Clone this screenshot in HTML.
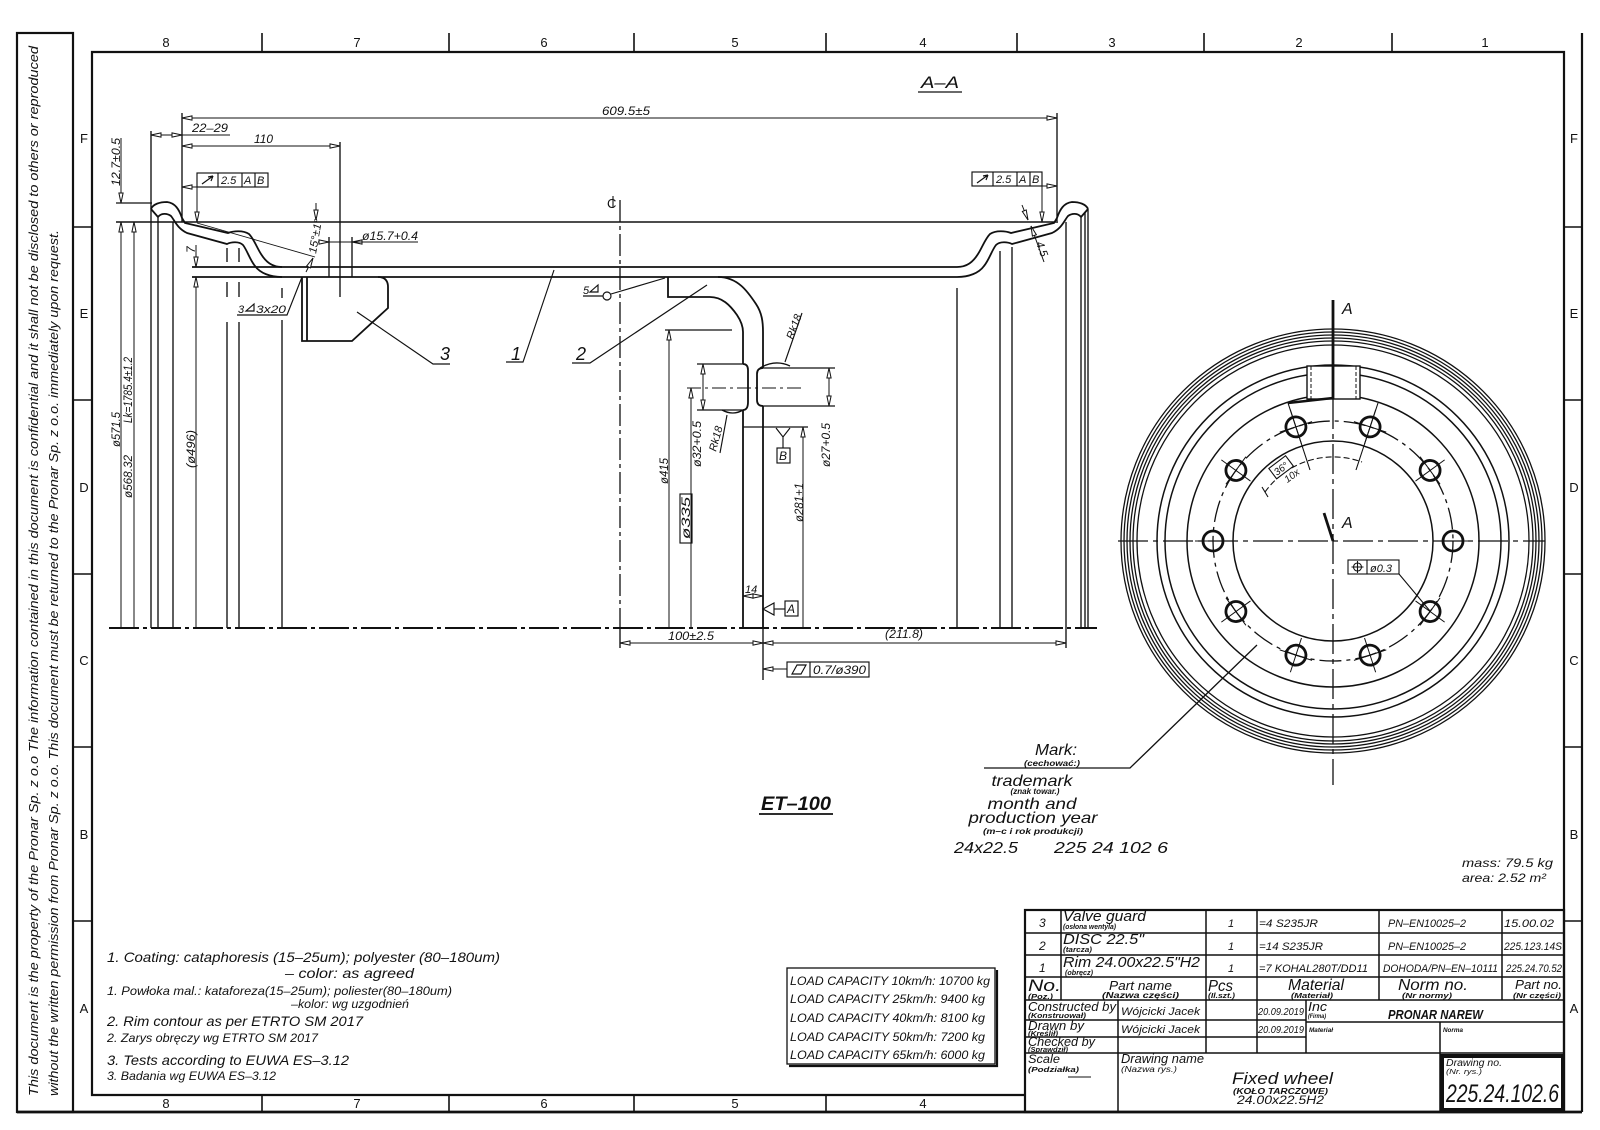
<!DOCTYPE html>
<html><head><meta charset="utf-8">
<style>
html,body{margin:0;padding:0;background:#fff;}
svg{display:block;}
text{font-family:"Liberation Sans","DejaVu Sans",sans-serif;font-style:italic;fill:#111;stroke:none;}
.n{font-style:normal;}
</style></head><body>
<svg width="1600" height="1130" viewBox="0 0 1600 1130" xmlns="http://www.w3.org/2000/svg">
<defs>
<marker id="a" viewBox="-1 -1 12 7" refX="10" refY="2.5" markerWidth="12" markerHeight="7" markerUnits="userSpaceOnUse" orient="auto-start-reverse"><path d="M0,0.4 L10,2.5 L0,4.6Z" fill="#fff" stroke="#111" stroke-width="1"/></marker>
</defs>
<rect width="1600" height="1130" fill="#fff"/>

<!-- FRAME -->
<g stroke="#111" fill="none" stroke-width="2.2">
<rect x="17" y="33" width="56" height="1079"/>
<line x1="1582" y1="33" x2="1582" y2="1112"/>
<line x1="17" y1="1112" x2="1582" y2="1112" stroke-width="2.8"/>
<path d="M1025,1095 H92 V52 H1564 V1112"/>
</g>
<g stroke="#111" stroke-width="1.6" fill="none">
<path d="M73,227H92M73,400H92M73,574H92M73,747H92M73,921H92"/>
<path d="M1564,227H1582M1564,400H1582M1564,574H1582M1564,747H1582M1564,921H1582"/>
<path d="M262,33V52M449,33V52M634,33V52M826,33V52M1017,33V52M1204,33V52M1392,33V52"/>
<path d="M262,1095V1112M449,1095V1112M634,1095V1112M826,1095V1112"/>
</g>
<g class="n" font-size="13" text-anchor="middle">
<text class="n" x="166" y="47">8</text><text class="n" x="357" y="47">7</text><text class="n" x="544" y="47">6</text><text class="n" x="735" y="47">5</text><text class="n" x="923" y="47">4</text><text class="n" x="1112" y="47">3</text><text class="n" x="1299" y="47">2</text><text class="n" x="1485" y="47">1</text>
<text class="n" x="166" y="1108">8</text><text class="n" x="357" y="1108">7</text><text class="n" x="544" y="1108">6</text><text class="n" x="735" y="1108">5</text><text class="n" x="923" y="1108">4</text>
<text class="n" x="84" y="143">F</text><text class="n" x="84" y="318">E</text><text class="n" x="84" y="492">D</text><text class="n" x="84" y="665">C</text><text class="n" x="84" y="839">B</text><text class="n" x="84" y="1013">A</text>
<text class="n" x="1574" y="143">F</text><text class="n" x="1574" y="318">E</text><text class="n" x="1574" y="492">D</text><text class="n" x="1574" y="665">C</text><text class="n" x="1574" y="839">B</text><text class="n" x="1574" y="1013">A</text>
</g>
<text transform="translate(38,1096) rotate(-90)" font-size="13" textLength="1050" lengthAdjust="spacingAndGlyphs">This document is the property of the Pronar Sp. z o.o The information contained in this document is confidential and it shall not be disclosed to others or reproduced</text>
<text transform="translate(58,1096) rotate(-90)" font-size="13" textLength="866" lengthAdjust="spacingAndGlyphs">without the written permission from Pronar Sp. z o.o.  This document must be returned to the Pronar Sp. z o.o.  immediately upon request.</text>

<!-- SECTION A-A -->
<text x="921" y="88" font-size="17" textLength="38" lengthAdjust="spacingAndGlyphs">A–A</text>
<line x1="918" y1="92" x2="962" y2="92" stroke="#111" stroke-width="1.3"/>

<!-- centre lines -->
<g stroke="#111" fill="none">
<line x1="109" y1="628" x2="1097" y2="628" stroke-width="1.9" stroke-dasharray="30 4 4 4"/>
<line x1="620" y1="200" x2="620" y2="628" stroke-width="1.3" stroke-dasharray="22 4 4 4"/>
</g>

<!-- rim profile -->
<g stroke="#111" stroke-width="1.8" fill="none">
<path d="M151,209 C153,204 160,202 167,202 C175,203 179,209 182,218 L185,223 L228,233 C233,231 243,230 249,234 C254,239 257,248 261,254 C266,262 272,267 282,267"/>
<path d="M158,217 C161,213 167,213 171,216 C175,221 177,228 187,233 L227,244 C231,242 239,241 243,245 C247,250 250,260 255,266 C260,273 270,277 282,277"/>
<path d="M151,209 L158,217"/>
<g transform="translate(1239,0) scale(-1,1)">
<path d="M151,209 C153,204 160,202 167,202 C175,203 179,209 182,218 L185,223 L228,233 C233,231 243,230 249,234 C254,239 257,248 261,254 C266,262 272,267 282,267"/>
<path d="M158,217 C161,213 167,213 171,216 C175,221 177,228 187,233 L227,244 C231,242 239,241 243,245 C247,250 250,260 255,266 C260,273 270,277 282,277"/>
<path d="M151,209 L158,217"/>
</g>
<line x1="116" y1="222" x2="1058" y2="222" stroke-width="1.5"/>
<line x1="192" y1="267" x2="957" y2="267"/>
<line x1="192" y1="277" x2="957" y2="277"/>
<!-- disc -->
<path d="M718,277 C738,277 748,292 756,304 C762,313 763,322 763,332 V368"/>
<path d="M668,277 V297 H710 C722,297 730,305 737,315 C741,321 743,326 743,332 V364"/>
<path d="M743,410 V628 M763,406 V628"/>
<path d="M748,370 V402 M757,374 V400"/>
<path d="M743,364 Q748,364 748,370 M763,368 Q757,368 757,374 M748,402 Q748,410 743,410 M757,400 Q757,406 763,406"/>
<!-- valve guard -->
<path d="M302,277 V341 H352 L388,308 V287 Q388,277 378,277"/>
<line x1="307" y1="277" x2="307" y2="341"/>
</g>

<!-- vertical construction lines -->
<g stroke="#111" stroke-width="1.35" fill="none">
<path d="M151,131V628 M158,216V628 M173,222V628"/>
<path d="M227,322V628 M239,322V628 M282,320V628"/>
<path d="M227,248V262 M239,248V262 M227,282V297 M239,282V297 M282,288V298"/>
<path d="M957,288V628 M1000,251V628 M1012,247V628 M1066,222V648 M1081,216V628 M1085,212V628 M1088,209V628"/>
<path d="M182,113V222 M1057,113V221 M340,142V297"/>
<path d="M329,237V277 M352,237V277"/>
<path d="M116,203H152"/>
<path d="M620,628V648 M763,628V680"/>
<path d="M665,330H732 M743,427H808"/>
<path d="M697,364H743 M697,410H743 M763,368H835 M763,406H835"/>
<path d="M760,368 Q775,359 790,366 M722,410 Q733,416 743,410"/>
</g>
<line x1="687" y1="388" x2="805" y2="388" stroke="#111" stroke-width="1.1" stroke-dasharray="14 4 3 4"/>
<line x1="197" y1="223" x2="315" y2="257" stroke="#111" stroke-width="0.9"/>

<!-- dimension lines -->
<g stroke="#111" stroke-width="1" fill="none">
<line x1="182" y1="118" x2="1057" y2="118" marker-start="url(#a)" marker-end="url(#a)"/>
<line x1="151" y1="135" x2="182" y2="135" marker-start="url(#a)" marker-end="url(#a)"/>
<line x1="182" y1="135" x2="230" y2="135"/>
<line x1="182" y1="146" x2="340" y2="146" marker-start="url(#a)" marker-end="url(#a)"/>
<line x1="121" y1="138" x2="121" y2="203" marker-end="url(#a)"/>
<line x1="121" y1="628" x2="121" y2="222" marker-end="url(#a)"/>
<line x1="134" y1="628" x2="134" y2="222" marker-end="url(#a)"/>
<line x1="196" y1="628" x2="196" y2="277" marker-end="url(#a)"/>
<line x1="196" y1="245" x2="196" y2="267" marker-end="url(#a)"/>
<line x1="316" y1="203" x2="316" y2="220" marker-end="url(#a)"/>
<line x1="306" y1="272" x2="313" y2="258" marker-end="url(#a)"/>
<line x1="197" y1="187" x2="182" y2="187" marker-end="url(#a)"/>
<line x1="197" y1="187" x2="197" y2="222" marker-end="url(#a)"/>
<line x1="1042" y1="186" x2="1057" y2="186" marker-end="url(#a)"/>
<line x1="1042" y1="186" x2="1042" y2="222" marker-end="url(#a)"/>
<line x1="318" y1="242" x2="329" y2="242" marker-end="url(#a)"/>
<line x1="363" y1="242" x2="352" y2="242" marker-end="url(#a)"/>
<line x1="329" y1="242" x2="418" y2="242"/>
<line x1="1022" y1="205" x2="1028" y2="220" marker-end="url(#a)"/>
<line x1="1044" y1="262" x2="1031" y2="226" marker-end="url(#a)"/>
<line x1="703" y1="364" x2="703" y2="410" marker-start="url(#a)" marker-end="url(#a)"/>
<line x1="829" y1="368" x2="829" y2="406" marker-start="url(#a)" marker-end="url(#a)"/>
<line x1="691" y1="628" x2="691" y2="388" marker-end="url(#a)"/>
<line x1="669" y1="628" x2="669" y2="330" marker-end="url(#a)"/>
<line x1="803" y1="628" x2="803" y2="427" marker-end="url(#a)"/>
<line x1="743" y1="596" x2="763" y2="596" marker-start="url(#a)" marker-end="url(#a)"/>
<line x1="620" y1="643" x2="763" y2="643" marker-start="url(#a)" marker-end="url(#a)"/>
<line x1="763" y1="643" x2="1066" y2="643" marker-start="url(#a)" marker-end="url(#a)"/>
<line x1="787" y1="669" x2="763" y2="669" marker-end="url(#a)"/>
</g>

<!-- leaders & labels -->
<g stroke="#111" stroke-width="1.15" fill="none">
<path d="M506,362H523L554,270"/>
<path d="M572,363H590L707,285"/>
<path d="M357,312L433,364H450"/>
<path d="M237,315H287L302,277"/>
<path d="M583,296H603"/>
<circle cx="607" cy="296" r="4"/>
<path d="M611,294L665,278"/>
<path d="M785,362L802,313 M727,415L720,453"/>
<path d="M776,428L783,437L790,428M783,437V448"/>
<rect x="777" y="448" width="13" height="15"/>
<path d="M763,609L774,603V615Z"/>
<path d="M774,609H785"/>
<rect x="785" y="601" width="13" height="15"/>
<rect x="680" y="494" width="12" height="49"/>
<rect x="787" y="662" width="82" height="15"/>
<path d="M810,662V677M792,674L797,665H806L801,674Z"/>
<path d="M246,311L254,311L254,304Z M590,292L598,292L598,285Z"/>
<rect x="197" y="173" width="71" height="14"/>
<path d="M218,173V187M242,173V187M255,173V187"/>
<path d="M202,184L213,176"/>
<path d="M213,176L208,177M213,176L211,181"/>
<rect x="972" y="172" width="70" height="14"/>
<path d="M993,172V186M1017,172V186M1030,172V186"/>
<path d="M977,183L988,175M988,175L983,176M988,175L986,180"/>
</g>
<!-- CL symbol -->
<text x="607" y="208" font-size="13" class="n">C</text>
<line x1="613" y1="196" x2="613" y2="208" stroke="#111" stroke-width="1.1"/>

<g font-size="12">
<text x="602" y="115" textLength="48" lengthAdjust="spacingAndGlyphs">609.5±5</text>
<text x="192" y="132" textLength="36" lengthAdjust="spacingAndGlyphs">22–29</text>
<text x="254" y="143" textLength="19" lengthAdjust="spacingAndGlyphs">110</text>
<text x="362" y="240" textLength="56" lengthAdjust="spacingAndGlyphs">ø15.7+0.4</text>
<text transform="translate(120,186) rotate(-90)" textLength="48" lengthAdjust="spacingAndGlyphs">12.7±0.5</text>
<text transform="translate(120,447) rotate(-90)" textLength="35" lengthAdjust="spacingAndGlyphs">ø571.5</text>
<text transform="translate(132,423) rotate(-90)" textLength="66" lengthAdjust="spacingAndGlyphs">Lk=1785.4±1.2</text>
<text transform="translate(132,498) rotate(-90)" textLength="43" lengthAdjust="spacingAndGlyphs">ø568.32</text>
<text transform="translate(195,468) rotate(-90)" textLength="38" lengthAdjust="spacingAndGlyphs">(ø496)</text>
<text transform="translate(195,253) rotate(-90)">7</text>
<text transform="translate(316,254) rotate(-80)" font-size="11" textLength="35" lengthAdjust="spacingAndGlyphs">15°±1°</text>
<text x="221" y="184" font-size="11">2.5</text>
<text x="244" y="184" font-size="11">A</text>
<text x="257" y="184" font-size="11">B</text>
<text x="996" y="183" font-size="11">2.5</text>
<text x="1019" y="183" font-size="11">A</text>
<text x="1032" y="183" font-size="11">B</text>
<text transform="translate(1036,243) rotate(70)" font-size="11">4.5</text>
<text x="238" y="313" font-size="11">3</text>
<text x="256" y="313" font-size="11" textLength="30" lengthAdjust="spacingAndGlyphs">3x20</text>
<text x="583" y="294" font-size="11">5</text>
<text x="511" y="360" font-size="18">1</text>
<text x="576" y="360" font-size="18">2</text>
<text x="440" y="360" font-size="18">3</text>
<text transform="translate(793,340) rotate(-70)" font-size="11">Rk18</text>
<text transform="translate(716,452) rotate(-75)" font-size="11">Rk18</text>
<text transform="translate(701,467) rotate(-90)" textLength="46" lengthAdjust="spacingAndGlyphs">ø32+0.5</text>
<text transform="translate(830,467) rotate(-90)" textLength="44" lengthAdjust="spacingAndGlyphs">ø27+0.5</text>
<text transform="translate(668,484) rotate(-90)" textLength="26" lengthAdjust="spacingAndGlyphs">ø415</text>
<text transform="translate(690,539) rotate(-90)" textLength="42" lengthAdjust="spacingAndGlyphs">ø335</text>
<text transform="translate(803,522) rotate(-90)" textLength="39" lengthAdjust="spacingAndGlyphs">ø281+1</text>
<text x="779" y="460" font-size="12">B</text>
<text x="745" y="593" font-size="11">14</text>
<text x="787" y="613" font-size="12">A</text>
<text x="668" y="640" textLength="46" lengthAdjust="spacingAndGlyphs">100±2.5</text>
<text x="885" y="638" textLength="38" lengthAdjust="spacingAndGlyphs">(211.8)</text>
<text x="813" y="674" textLength="53" lengthAdjust="spacingAndGlyphs">0.7/ø390</text>
</g>

<!-- CIRCLE VIEW -->
<g stroke="#111" fill="none" stroke-width="1.3">
<circle cx="1333" cy="541" r="212"/>
<circle cx="1333" cy="541" r="209"/>
<circle cx="1333" cy="541" r="206"/>
<circle cx="1333" cy="541" r="203"/>
<circle cx="1333" cy="541" r="200"/>
<circle cx="1333" cy="541" r="196"/>
<circle cx="1333" cy="541" r="176" stroke-width="1.5"/>
<circle cx="1333" cy="541" r="168" stroke-width="1.5"/>
<circle cx="1333" cy="541" r="146" stroke-width="1.5"/>
<circle cx="1333" cy="541" r="100" stroke-width="1.5"/>
<circle cx="1333" cy="541" r="120" stroke-dasharray="22 5 4 5"/>
<line x1="1118" y1="541" x2="1545" y2="541" stroke-dasharray="30 5 5 5"/>
<line x1="1333" y1="399" x2="1333" y2="785" stroke-dasharray="30 5 5 5"/>
</g>
<rect x="1307" y="366" width="53" height="33" fill="#fff" stroke="#111" stroke-width="1.4"/>
<g stroke="#111" fill="none">
<path d="M1311,366V399M1356,366V399" stroke-width="1" stroke-dasharray="4 2"/>
<line x1="1333" y1="300" x2="1333" y2="399" stroke-width="2.8"/>
<line x1="1324" y1="513" x2="1333" y2="541" stroke-width="2.8"/>
<path d="M1333,398L1288,403" stroke-width="2.4"/>
<path d="M1288,403L1310,470 M1378,403L1356,470" stroke-width="1.1"/>
<path d="M1265,492 A84,84 0 0 1 1362,462" stroke-width="1.1" stroke-dasharray="6 3"/>
<path d="M1262,487L1268,497" stroke-width="1.1"/>
</g>
<g stroke="#111" fill="none">
<g transform="translate(1333,541) rotate(18)"><circle cx="0" cy="-120" r="10" stroke-width="2.8"/><path d="M0,-138V-102M-17,-120H17" stroke-width="1"/></g>
<g transform="translate(1333,541) rotate(54)"><circle cx="0" cy="-120" r="10" stroke-width="2.8"/><path d="M0,-138V-102M-17,-120H17" stroke-width="1"/></g>
<g transform="translate(1333,541) rotate(90)"><circle cx="0" cy="-120" r="10" stroke-width="2.8"/><path d="M0,-138V-102" stroke-width="1"/></g>
<g transform="translate(1333,541) rotate(126)"><circle cx="0" cy="-120" r="10" stroke-width="2.8"/><path d="M0,-138V-102M-17,-120H17" stroke-width="1"/></g>
<g transform="translate(1333,541) rotate(162)"><circle cx="0" cy="-120" r="10" stroke-width="2.8"/><path d="M0,-138V-102M-17,-120H17" stroke-width="1"/></g>
<g transform="translate(1333,541) rotate(198)"><circle cx="0" cy="-120" r="10" stroke-width="2.8"/><path d="M0,-138V-102M-17,-120H17" stroke-width="1"/></g>
<g transform="translate(1333,541) rotate(234)"><circle cx="0" cy="-120" r="10" stroke-width="2.8"/><path d="M0,-138V-102M-17,-120H17" stroke-width="1"/></g>
<g transform="translate(1333,541) rotate(270)"><circle cx="0" cy="-120" r="10" stroke-width="2.8"/><path d="M0,-138V-102" stroke-width="1"/></g>
<g transform="translate(1333,541) rotate(306)"><circle cx="0" cy="-120" r="10" stroke-width="2.8"/><path d="M0,-138V-102M-17,-120H17" stroke-width="1"/></g>
<g transform="translate(1333,541) rotate(342)"><circle cx="0" cy="-120" r="10" stroke-width="2.8"/><path d="M0,-138V-102M-17,-120H17" stroke-width="1"/></g>
</g>
<g transform="translate(1281,468) rotate(-37)">
<rect x="-10" y="-7" width="21" height="13" fill="#fff" stroke="#111" stroke-width="1.1"/>
<text x="-8" y="4" font-size="10">36°</text>
<text x="-4" y="16" font-size="10">10x</text>
</g>
<rect x="1348" y="560" width="51" height="14" fill="#fff" stroke="#111" stroke-width="1.1"/>
<path d="M1367,560V574 M1399,574L1430,611" stroke="#111" stroke-width="1.1" fill="none"/>
<circle cx="1357.5" cy="567" r="4" fill="none" stroke="#111" stroke-width="1.1"/>
<path d="M1351.5,567H1363.5M1357.5,561V573" stroke="#111" stroke-width="1.1"/>
<text x="1370" y="572" font-size="11">ø0.3</text>
<text x="1342" y="314" font-size="16">A</text>
<text x="1342" y="528" font-size="16">A</text>

<!-- MARK -->
<path d="M984,768H1130L1257,645" stroke="#111" stroke-width="1.3" fill="none"/>
<g text-anchor="middle">
<text x="1056" y="755" font-size="16" textLength="42" lengthAdjust="spacingAndGlyphs">Mark:</text>
<text x="1052" y="766" font-size="8" font-weight="bold" textLength="56" lengthAdjust="spacingAndGlyphs">(cechować:)</text>
<text x="1032" y="786" font-size="16" textLength="81" lengthAdjust="spacingAndGlyphs">trademark</text>
<text x="1035" y="794" font-size="8" font-weight="bold" textLength="49" lengthAdjust="spacingAndGlyphs">(znak towar.)</text>
<text x="1032" y="809" font-size="16" textLength="89" lengthAdjust="spacingAndGlyphs">month and</text>
<text x="1033" y="823" font-size="16" textLength="129" lengthAdjust="spacingAndGlyphs">production  year</text>
<text x="1033" y="834" font-size="8" font-weight="bold" textLength="100" lengthAdjust="spacingAndGlyphs">(m–c i rok produkcji)</text>
</g>
<text x="954" y="853" font-size="16" textLength="64" lengthAdjust="spacingAndGlyphs">24x22.5</text>
<text x="1054" y="853" font-size="16" textLength="114" lengthAdjust="spacingAndGlyphs">225 24 102 6</text>

<text x="761" y="810" font-size="19" font-weight="bold" textLength="70" lengthAdjust="spacingAndGlyphs">ET–100</text>
<line x1="759" y1="814" x2="833" y2="814" stroke="#111" stroke-width="1.8"/>

<text x="1462" y="867" font-size="12" textLength="91" lengthAdjust="spacingAndGlyphs">mass:  79.5 kg</text>
<text x="1462" y="882" font-size="12" textLength="84" lengthAdjust="spacingAndGlyphs">area:  2.52 m²</text>

<!-- NOTES -->
<text x="107" y="962" font-size="14" textLength="393" lengthAdjust="spacingAndGlyphs">1. Coating: cataphoresis (15–25um); polyester (80–180um)</text>
<text x="285" y="978" font-size="14" textLength="129" lengthAdjust="spacingAndGlyphs">– color: as agreed</text>
<text x="107" y="995" font-size="12" textLength="345" lengthAdjust="spacingAndGlyphs">1. Powłoka mal.: kataforeza(15–25um); poliester(80–180um)</text>
<text x="291" y="1008" font-size="12" textLength="118" lengthAdjust="spacingAndGlyphs">–kolor: wg uzgodnień</text>
<text x="107" y="1026" font-size="14" textLength="256" lengthAdjust="spacingAndGlyphs">2. Rim contour as per ETRTO SM 2017</text>
<text x="107" y="1042" font-size="12" textLength="211" lengthAdjust="spacingAndGlyphs">2. Zarys obręczy wg ETRTO SM 2017</text>
<text x="107" y="1065" font-size="14" textLength="242" lengthAdjust="spacingAndGlyphs">3. Tests according to EUWA ES–3.12</text>
<text x="107" y="1080" font-size="12" textLength="169" lengthAdjust="spacingAndGlyphs">3. Badania wg EUWA ES–3.12</text>

<!-- LOAD CAPACITY -->
<rect x="787" y="968" width="208" height="96" fill="#fff" stroke="#111" stroke-width="1.3"/>
<path d="M997,970V1066H789" stroke="#111" stroke-width="2.2" fill="none"/>
<g font-size="11.5">
<text x="790" y="985" textLength="200" lengthAdjust="spacingAndGlyphs">LOAD CAPACITY 10km/h:  10700 kg</text>
<text x="790" y="1003" textLength="195" lengthAdjust="spacingAndGlyphs">LOAD CAPACITY 25km/h:  9400 kg</text>
<text x="790" y="1022" textLength="195" lengthAdjust="spacingAndGlyphs">LOAD CAPACITY 40km/h:  8100 kg</text>
<text x="790" y="1041" textLength="195" lengthAdjust="spacingAndGlyphs">LOAD CAPACITY 50km/h:  7200 kg</text>
<text x="790" y="1059" textLength="195" lengthAdjust="spacingAndGlyphs">LOAD CAPACITY 65km/h:  6000 kg</text>
</g>

<!-- TITLE BLOCK -->
<g stroke="#111" fill="none" stroke-width="1.5">
<path d="M1025,910H1564M1025,933H1564M1025,955H1564M1025,977H1564M1025,1000H1564" />
<path d="M1061,910V1000M1206,910V1053M1257,910V1053M1379,910V1000M1502,910V1000"/>
<path d="M1306,1000V1053M1118,1000V1112M1440,1022V1112"/>
<path d="M1025,1020H1306M1025,1037H1306M1306,1022H1564M1025,1053H1564"/>
<rect x="1025" y="910" width="539" height="202" stroke-width="2.2"/>
<rect x="1442" y="1056" width="121" height="54" stroke-width="4"/>
<path d="M1068,1077H1091" stroke-width="1.1"/>
</g>
<g font-size="11">
<text x="1039" y="927" font-size="12">3</text>
<text x="1039" y="950" font-size="12">2</text>
<text x="1039" y="972" font-size="12">1</text>
<text x="1063" y="921" font-size="15" textLength="83" lengthAdjust="spacingAndGlyphs">Valve guard</text>
<text x="1063" y="929" font-size="7" font-weight="bold" textLength="53" lengthAdjust="spacingAndGlyphs">(osłona wentyla)</text>
<text x="1063" y="944" font-size="15" textLength="81" lengthAdjust="spacingAndGlyphs">DISC 22.5"</text>
<text x="1063" y="952" font-size="7" font-weight="bold" textLength="29" lengthAdjust="spacingAndGlyphs">(tarcza)</text>
<text x="1063" y="967" font-size="15" textLength="137" lengthAdjust="spacingAndGlyphs">Rim 24.00x22.5"H2</text>
<text x="1065" y="975" font-size="7" font-weight="bold" textLength="28" lengthAdjust="spacingAndGlyphs">(obręcz)</text>
<text x="1228" y="927">1</text><text x="1228" y="950">1</text><text x="1228" y="972">1</text>
<text x="1259" y="927" textLength="59" lengthAdjust="spacingAndGlyphs">=4 S235JR</text>
<text x="1259" y="950" textLength="64" lengthAdjust="spacingAndGlyphs">=14 S235JR</text>
<text x="1259" y="972" textLength="109" lengthAdjust="spacingAndGlyphs">=7 KOHAL280T/DD11</text>
<text x="1388" y="927" textLength="78" lengthAdjust="spacingAndGlyphs">PN–EN10025–2</text>
<text x="1388" y="950" textLength="78" lengthAdjust="spacingAndGlyphs">PN–EN10025–2</text>
<text x="1383" y="972" textLength="115" lengthAdjust="spacingAndGlyphs">DOHODA/PN–EN–10111</text>
<text x="1504" y="927" textLength="50" lengthAdjust="spacingAndGlyphs">15.00.02</text>
<text x="1504" y="950" textLength="58" lengthAdjust="spacingAndGlyphs">225.123.14S</text>
<text x="1506" y="972" textLength="56" lengthAdjust="spacingAndGlyphs">225.24.70.52</text>
<text x="1028" y="991" font-size="17" textLength="33" lengthAdjust="spacingAndGlyphs">No.</text>
<text x="1028" y="999" font-size="7" font-weight="bold" textLength="25" lengthAdjust="spacingAndGlyphs">(Poz.)</text>
<text x="1109" y="990" font-size="13" textLength="63" lengthAdjust="spacingAndGlyphs">Part name</text>
<text x="1102" y="998" font-size="8" font-weight="bold" textLength="77" lengthAdjust="spacingAndGlyphs">(Nazwa części)</text>
<text x="1208" y="991" font-size="16" textLength="25" lengthAdjust="spacingAndGlyphs">Pcs</text>
<text x="1208" y="998" font-size="7" font-weight="bold" textLength="27" lengthAdjust="spacingAndGlyphs">(Il.szt.)</text>
<text x="1288" y="990" font-size="16" textLength="56" lengthAdjust="spacingAndGlyphs">Material</text>
<text x="1291" y="998" font-size="7" font-weight="bold" textLength="42" lengthAdjust="spacingAndGlyphs">(Materiał)</text>
<text x="1398" y="990" font-size="16" textLength="70" lengthAdjust="spacingAndGlyphs">Norm no.</text>
<text x="1402" y="998" font-size="7" font-weight="bold" textLength="50" lengthAdjust="spacingAndGlyphs">(Nr normy)</text>
<text x="1515" y="989" font-size="13" textLength="47" lengthAdjust="spacingAndGlyphs">Part no.</text>
<text x="1513" y="998" font-size="7" font-weight="bold" textLength="48" lengthAdjust="spacingAndGlyphs">(Nr części)</text>
<text x="1028" y="1011" font-size="13" textLength="88" lengthAdjust="spacingAndGlyphs">Constructed by</text>
<text x="1028" y="1018" font-size="7" font-weight="bold" textLength="58" lengthAdjust="spacingAndGlyphs">(Konstruował)</text>
<text x="1121" y="1015" textLength="79" lengthAdjust="spacingAndGlyphs">Wójcicki Jacek</text>
<text x="1258" y="1015" font-size="10" textLength="46" lengthAdjust="spacingAndGlyphs">20.09.2019</text>
<text x="1308" y="1011" font-size="13" textLength="19" lengthAdjust="spacingAndGlyphs">Inc</text>
<text x="1308" y="1018" font-size="6" font-weight="bold" textLength="18" lengthAdjust="spacingAndGlyphs">(Firma)</text>
<text x="1388" y="1019" font-size="13" font-weight="bold" textLength="95" lengthAdjust="spacingAndGlyphs">PRONAR NAREW</text>
<text x="1028" y="1030" font-size="13" textLength="56" lengthAdjust="spacingAndGlyphs">Drawn by</text>
<text x="1028" y="1036" font-size="7" font-weight="bold" textLength="30" lengthAdjust="spacingAndGlyphs">(Kreślił)</text>
<text x="1121" y="1033" textLength="79" lengthAdjust="spacingAndGlyphs">Wójcicki Jacek</text>
<text x="1258" y="1033" font-size="10" textLength="46" lengthAdjust="spacingAndGlyphs">20.09.2019</text>
<text x="1309" y="1032" font-size="6" font-weight="bold" textLength="24" lengthAdjust="spacingAndGlyphs">Materiał</text>
<text x="1443" y="1032" font-size="6" font-weight="bold" textLength="20" lengthAdjust="spacingAndGlyphs">Norma</text>
<text x="1028" y="1046" font-size="13" textLength="67" lengthAdjust="spacingAndGlyphs">Checked by</text>
<text x="1028" y="1052" font-size="7" font-weight="bold" textLength="40" lengthAdjust="spacingAndGlyphs">(Sprawdził)</text>
<text x="1028" y="1063" font-size="12" textLength="32" lengthAdjust="spacingAndGlyphs">Scale</text>
<text x="1028" y="1072" font-size="7" font-weight="bold" textLength="51" lengthAdjust="spacingAndGlyphs">(Podziałka)</text>
<text x="1121" y="1063" font-size="13" textLength="83" lengthAdjust="spacingAndGlyphs">Drawing name</text>
<text x="1121" y="1072" font-size="8" textLength="56" lengthAdjust="spacingAndGlyphs">(Nazwa rys.)</text>
<text x="1232" y="1084" font-size="17" textLength="101" lengthAdjust="spacingAndGlyphs">Fixed wheel</text>
<text x="1233" y="1094" font-size="8" font-weight="bold" textLength="95" lengthAdjust="spacingAndGlyphs">(KOŁO TARCZOWE)</text>
<text x="1237" y="1104" font-size="12" textLength="87" lengthAdjust="spacingAndGlyphs">24.00x22.5H2</text>
<text x="1446" y="1066" font-size="10" textLength="56" lengthAdjust="spacingAndGlyphs">Drawing no.</text>
<text x="1446" y="1074" font-size="7" textLength="36" lengthAdjust="spacingAndGlyphs">(Nr. rys.)</text>
<text x="1446" y="1102" font-size="25" textLength="113" lengthAdjust="spacingAndGlyphs">225.24.102.6</text>
</g>
</svg>
</body></html>
